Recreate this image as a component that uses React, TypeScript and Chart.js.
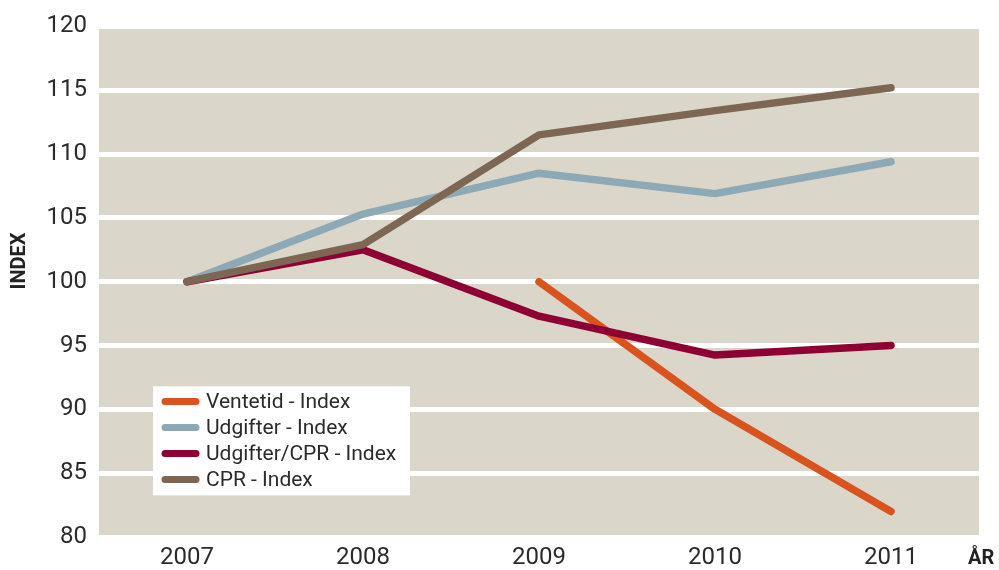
import React, { useEffect, useRef } from "react";
import { Chart, registerables } from "chart.js";

Chart.register(...registerables);

const years = ["2007", "2008", "2009", "2010", "2011"];
const ventetid = [null, null, 100, 90, 82];
const udgifter = [100, 105.3, 108.5, 106.9, 109.4];
const udgifterCpr = [100, 102.5, 97.3, 94.25, 95];
const cpr = [100, 102.9, 111.5, 113.4, 115.2];
const seriesNames = ["Ventetid - Index", "Udgifter - Index", "Udgifter/CPR - Index", "CPR - Index"];
const seriesColors = ["#D9531E", "#8EA9B6", "#8E0033", "#7E6654"];
const yTitle = "INDEX";
const xTitle = "ÅR";

const FONT = "Roboto, 'DejaVu Sans', sans-serif";

const decor = {
  id: "decor",
  beforeDraw(chart: any) {
    const { ctx, chartArea: a } = chart;
    ctx.save();
    ctx.fillStyle = "#DAD6C9";
    ctx.fillRect(a.left, a.top, a.right - a.left, a.bottom - a.top);
    ctx.restore();
  },
  afterDraw(chart: any) {
    const { ctx, chartArea: a } = chart;
    ctx.save();
    ctx.fillStyle = "#222";
    ctx.font = `bold 20px ${FONT}`;
    ctx.textAlign = "center";
    ctx.textBaseline = "middle";
    ctx.save();
    ctx.translate(20, 261);
    ctx.rotate(-Math.PI / 2);
    ctx.fillText(yTitle, 0, 0);
    ctx.restore();
    ctx.textAlign = "left";
    ctx.fillText(xTitle, a.right - 11, 559);

    // legend
    const lx = a.left + 54;
    const ly = a.top + 360;
    const w = 257;
    const h = 109;
    ctx.fillStyle = "#ffffff";
    ctx.fillRect(lx, ly, w, h);
    ctx.font = `21px ${FONT}`;
    ctx.textBaseline = "middle";
    ctx.lineCap = "round";
    ctx.lineWidth = 7;
    seriesNames.forEach((name, i) => {
      const y = ly + 15 + i * 26;
      ctx.strokeStyle = seriesColors[i];
      ctx.beginPath();
      ctx.moveTo(lx + 12, y);
      ctx.lineTo(lx + 43, y);
      ctx.stroke();
      ctx.fillStyle = "#2b2b2b";
      ctx.fillText(name, lx + 53, y + 1);
    });
    ctx.restore();
  },
};

export default function App() {
  const ref = useRef<HTMLCanvasElement>(null);
  useEffect(() => {
    if (!ref.current) return;
    const data = [ventetid, udgifter, udgifterCpr, cpr];
    const chart = new Chart(ref.current, {
      type: "line",
      data: {
        labels: years,
        datasets: data.map((d, i) => ({
          label: seriesNames[i],
          data: d as any,
          borderColor: seriesColors[i],
          backgroundColor: seriesColors[i],
          borderWidth: 7.5,
          borderCapStyle: "round" as const,
          borderJoinStyle: "round" as const,
          pointRadius: 0,
          tension: 0,
          fill: false,
          spanGaps: false,
          order: 4 - i,
        })),
      },
      options: {
        animation: false,
        responsive: false,
        maintainAspectRatio: false,
        layout: { padding: { left: 0, top: 26, right: 20, bottom: 0 } },
        plugins: { legend: { display: false }, tooltip: { enabled: false } },
        scales: {
          x: {
            offset: true,
            grid: { display: false, drawTicks: false },
            border: { display: false },
            ticks: { color: "#2b2b2b", font: { family: FONT, size: 24 }, padding: 7 },
            afterFit: (s: any) => { s.height = 33; },
          },
          y: {
            min: 80,
            max: 120,
            ticks: { stepSize: 5, color: "#2b2b2b", font: { family: FONT, size: 24 }, padding: 12 },
            grid: { color: "#ffffff", lineWidth: 5, drawTicks: false },
            border: { display: false },
            afterFit: (s: any) => { s.width = 99; },
          },
        },
      },
      plugins: [decor],
    });
    return () => chart.destroy();
  }, []);
  return (
    <div style={{ position: "absolute", left: 0, top: 0, width: 999, height: 570, background: "#fff" }}>
      <canvas ref={ref} width={999} height={570} style={{ display: "block" }} />
    </div>
  );
}
